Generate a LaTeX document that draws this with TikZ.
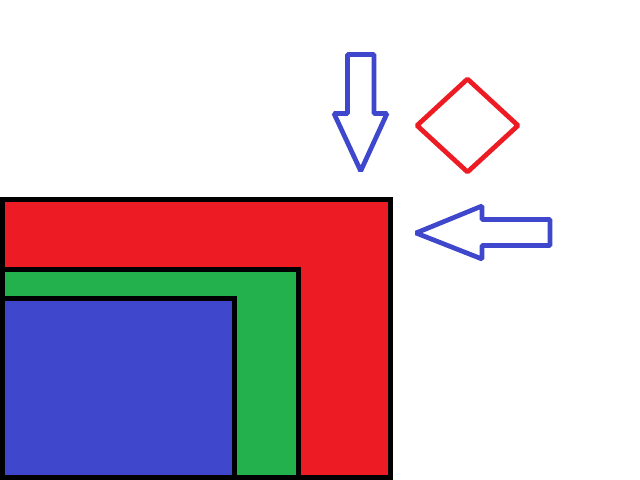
\documentclass[tikz,border=0pt]{standalone}
\usepackage{xcolor}
\definecolor{paintred}{HTML}{ED1C24}
\definecolor{paintgreen}{HTML}{22B14C}
\definecolor{paintblue}{HTML}{3F48CC}

\begin{document}
\begin{tikzpicture}[
  x=0.02cm, y=-0.02cm,
  block/.style={draw=black, line width=0.1cm, line join=miter},
  outline/.style={line width=0.095cm, line join=bevel},
  blockred/.style={block, fill=paintred},
  blockgreen/.style={block, fill=paintgreen},
  blueblock/.style={block, fill=paintblue},
  bluearrow/.style={outline, draw=paintblue},
  reddiamond/.style={outline, draw=paintred}
]
\useasboundingbox (0,0) rectangle (640,480);

% nested blocks
\draw[blockred] (2.5,199.5) rectangle (390.5,477.5);
\draw[blockgreen] (2.5,269.5) rectangle (298.5,477.5);
\draw[blueblock] (2.5,298.5) rectangle (234.5,477.5);

% arrow pointing down
\draw[bluearrow] (347.5,54.5) -- (374,54.5) -- (374,113.5) -- (387,113.5)
  -- (360.7,171) -- (334,113.5) -- (347.5,113.5) -- cycle;

% diamond
\draw[reddiamond] (467.5,79) -- (518,125.5) -- (467.5,172) -- (417,125.5) -- cycle;

% arrow pointing left
\draw[bluearrow] (416,233) -- (482,206) -- (482,219.5) -- (550,219.5)
  -- (550,245.5) -- (482,245.5) -- (482,259) -- cycle;

\end{tikzpicture}
\end{document}
